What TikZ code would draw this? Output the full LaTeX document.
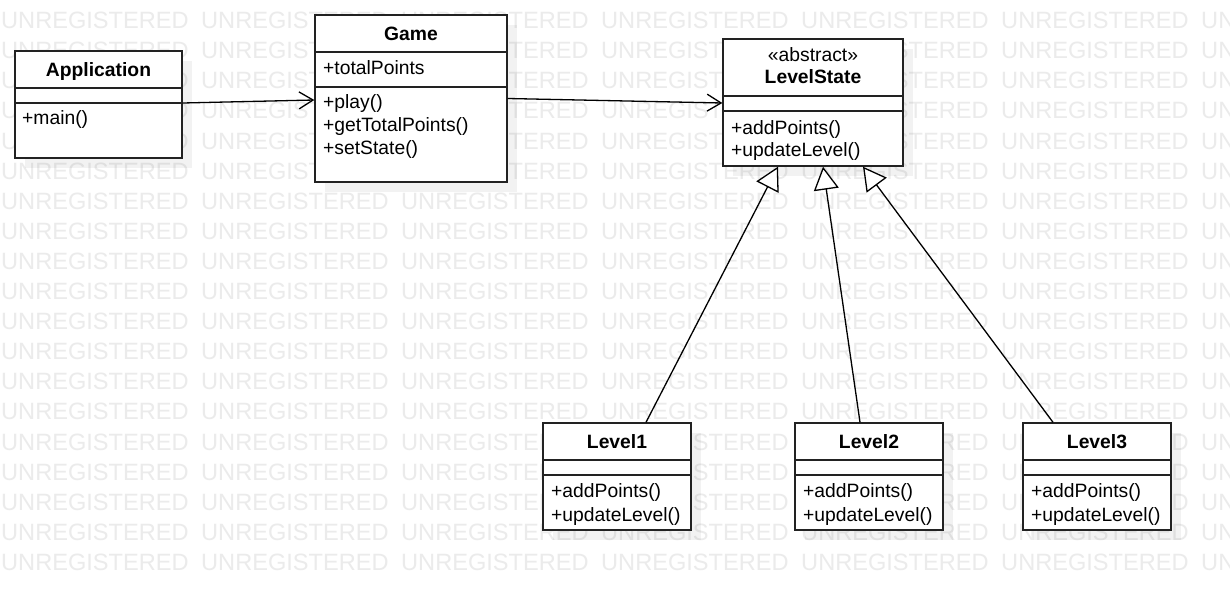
\documentclass[tikz,border=0pt]{standalone}
\usepackage{fontspec}
\setmainfont{Liberation Sans}
\usetikzlibrary{arrows.meta,shadows}
\definecolor{wmc}{HTML}{EBEBEB}
\definecolor{linec}{HTML}{222222}
\tikzset{
  wm/.style={anchor=west,inner sep=0pt,text=wmc,font=\fontsize{23.6}{23.6}\selectfont},
  umlbox/.style={draw=linec,line width=1.4pt,fill=white,rectangle,inner sep=0pt,
    general shadow={fill=black,opacity=0.05,shadow xshift=10pt,shadow yshift=-10pt}},
  sep/.style={draw=linec,line width=1.4pt},
  ttl/.style={anchor=base,inner sep=0pt,font=\fontsize{19.3}{23}\bfseries\selectfont},
  stereo/.style={anchor=base,inner sep=0pt,font=\fontsize{19.3}{23}\selectfont},
  mem/.style={anchor=base west,inner sep=0pt,font=\fontsize{19.3}{23}\selectfont},
  assoc/.style={draw=black,line width=1.3pt,-{Straight Barb[length=14pt,width=17pt]}},
  gen/.style={draw=black,line width=1.3pt,-{Triangle[open,fill=white,length=23pt,width=25pt]}}
}
\begin{document}
\begin{tikzpicture}[x=1pt,y=-1pt]
\useasboundingbox (0,0) rectangle (1230,591);
\fill[white] (0,0) rectangle (1230,591);
\begin{scope}
\clip (0,0) rectangle (1230,591);
\foreach \r in {0,...,18}{
  \foreach \c in {0,...,6}{
    \node[wm] (wm-\r-\c) at (200*\c+1, 20.5+30.1*\r) {UNREGISTERED};
  }
}
\end{scope}

% boxes
\node[umlbox,minimum width=167,minimum height=107] (app) at (98.5,104.5) {};
\node[umlbox,minimum width=192,minimum height=167] (game) at (411,98.5) {};
\node[umlbox,minimum width=180,minimum height=127] (ls) at (813,102.5) {};
\node[umlbox,minimum width=148,minimum height=107] (l1) at (617,476.5) {};
\node[umlbox,minimum width=148,minimum height=107] (l2) at (869,476.5) {};
\node[umlbox,minimum width=148,minimum height=107] (l3) at (1097,476.5) {};

% separators
\draw[sep] (15,88) -- (182,88);
\draw[sep] (15,103) -- (182,103);
\draw[sep] (315,52) -- (507,52);
\draw[sep] (315,87) -- (507,87);
\draw[sep] (723,96) -- (903,96);
\draw[sep] (723,111) -- (903,111);
\foreach \xl/\xr in {543/691,795/943,1023/1171}{
  \draw[sep] (\xl,460) -- (\xr,460);
  \draw[sep] (\xl,475) -- (\xr,475);
}

% texts
\node[ttl] (app-t) at (98.5,76.5) {Application};
\node[mem] (app-m1) at (22,124.5) {+main()};

\node[ttl] (game-t) at (411,40.5) {Game};
\node[mem] (game-a1) at (323,74.5) {+totalPoints};
\node[mem] (game-m1) at (323,108.5) {+play()};
\node[mem] (game-m2) at (323,131.5) {+getTotalPoints()};
\node[mem] (game-m3) at (323,154.5) {+setState()};

\node[stereo] (ls-s) at (813,61.5) {«abstract»};
\node[ttl] (ls-t) at (813,83.5) {LevelState};
\node[mem] (ls-m1) at (731,134.5) {+addPoints()};
\node[mem] (ls-m2) at (731,156.5) {+updateLevel()};

\node[ttl] (l1-t) at (617,448) {Level1};
\node[mem] (l1-m1) at (551,497) {+addPoints()};
\node[mem] (l1-m2) at (551,521) {+updateLevel()};
\node[ttl] (l2-t) at (869,448) {Level2};
\node[mem] (l2-m1) at (803,497) {+addPoints()};
\node[mem] (l2-m2) at (803,521) {+updateLevel()};
\node[ttl] (l3-t) at (1097,448) {Level3};
\node[mem] (l3-m1) at (1031,497) {+addPoints()};
\node[mem] (l3-m2) at (1031,521) {+updateLevel()};

% connectors
\draw[assoc] ([yshift=1.5pt]app.east) -- ([yshift=-1.5pt]game.west);
\draw[assoc] ([yshift=0pt]game.east) -- ([yshift=-0.5pt]ls.west);
\draw[gen] ([xshift=29pt]l1.north) -- ([xshift=-35pt]ls.south);
\draw[gen] ([xshift=-9pt]l2.north) -- ([xshift=10pt]ls.south);
\draw[gen] ([xshift=-44pt]l3.north) -- ([xshift=50pt]ls.south);
\end{tikzpicture}
\end{document}
